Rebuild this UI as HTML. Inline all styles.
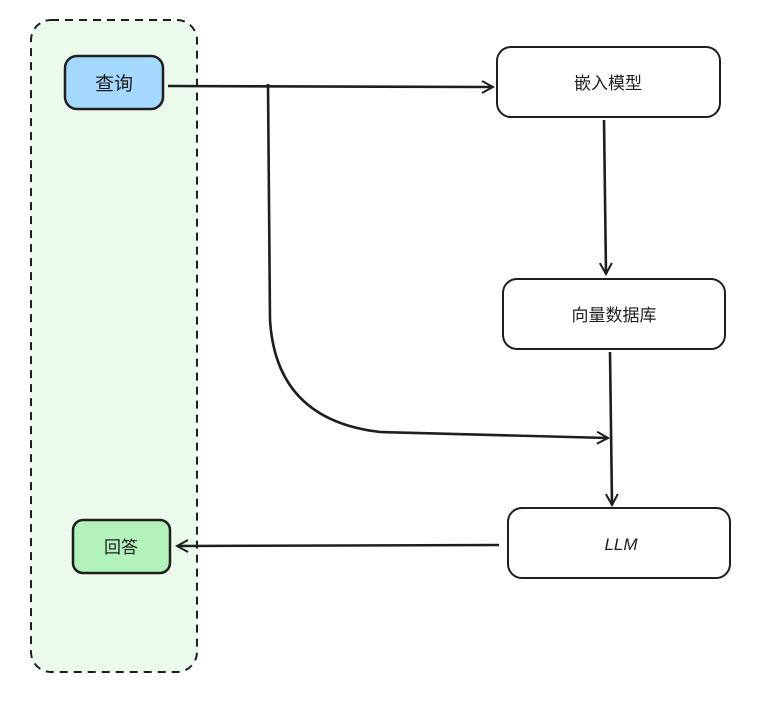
<!DOCTYPE html>
<html><head><meta charset="utf-8"><style>
html,body{margin:0;padding:0;background:#fff;}
svg text{font-family:"Liberation Sans","Noto Sans CJK SC",sans-serif;fill:#1e1e1e;}
</style></head><body>
<svg width="765" height="705" viewBox="0 0 765 705" xmlns="http://www.w3.org/2000/svg">
<defs><marker id="a" markerWidth="14" markerHeight="14" refX="12" refY="7" orient="auto" markerUnits="userSpaceOnUse"><path d="M1,1 L12,7 L1,13" fill="none" stroke="#1e1e1e" stroke-width="2"/></marker></defs>
<rect x="31" y="20" width="166" height="652" rx="20" fill="#ebfaec" stroke="#1e1e1e" stroke-width="2" stroke-dasharray="8 6"/>
<rect x="65" y="56" width="98" height="53" rx="12" fill="#a5d8ff" stroke="#1e1e1e" stroke-width="2.5"/>
<text x="114" y="90" font-size="19" text-anchor="middle">查询</text>
<rect x="73" y="520" width="97" height="53" rx="10" fill="#b2f2bb" stroke="#1e1e1e" stroke-width="2.5"/>
<text x="121" y="553" font-size="17" text-anchor="middle">回答</text>
<rect x="497" y="47" width="223" height="70" rx="14" fill="#fff" stroke="#1e1e1e" stroke-width="2"/>
<text x="608" y="89" font-size="17" text-anchor="middle">嵌入模型</text>
<rect x="503" y="279" width="222" height="70" rx="14" fill="#fff" stroke="#1e1e1e" stroke-width="2"/>
<text x="614" y="321" font-size="17" text-anchor="middle">向量数据库</text>
<rect x="508" y="508" width="222" height="70" rx="14" fill="#fff" stroke="#1e1e1e" stroke-width="2"/>
<text x="621" y="550" font-size="17" font-style="italic" text-anchor="middle">LLM</text>
<g fill="none" stroke="#1e1e1e" stroke-width="2.6">
<path d="M168,86 L493,87" marker-end="url(#a)"/>
<path d="M268,84 L270,320 Q276,420 380,432 L608,438" marker-end="url(#a)"/>
<path d="M604,120 L606,274" marker-end="url(#a)"/>
<path d="M610,352 L612,505" marker-end="url(#a)"/>
<path d="M499,545 L177,546" marker-end="url(#a)"/>
</g>
</svg>
</body></html>
